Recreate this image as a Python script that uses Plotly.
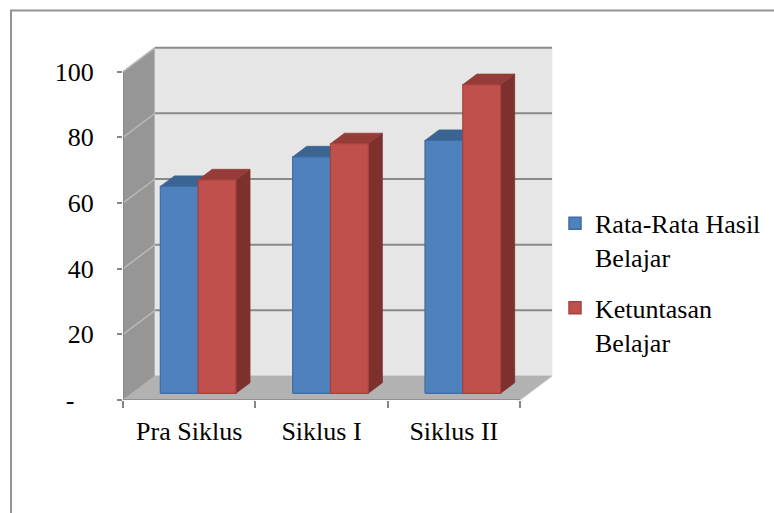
import plotly.graph_objects as go

# ---------------- data ----------------
categories = ["Pra Siklus", "Siklus I", "Siklus II"]
rata_rata = [63, 72, 77]
ketuntasan = [65, 76, 94]
series_names = ["Rata-Rata Hasil<br>Belajar", "Ketuntasan<br>Belajar"]
y_ticks = [0, 20, 40, 60, 80, 100]
y_tick_text = ["-\u00a0\u00a0\u00a0", "20", "40", "60", "80", "100"]

# ---------------- styling / geometry ----------------
W, H = 774, 513
ML, MR, MT, MB = 123, 219, 40, 113
KX = 132.33   # px per category unit
KY = 3.283    # px per value unit
DX = 32 / KX  # depth offset (x units)
DY = 24 / KY  # depth offset (y units)
XMIN = -0.5
XMAX = XMIN + (W - ML - MR) / KX
YMAX = (H - MT - MB) / KY
BW = 1 / 3.5          # bar width (gap width 150%)
D0, D1 = 0.28, 0.72   # bar depth span
FONT = "Times New Roman, Liberation Serif, serif"
FS = 26

front_cols = ["#4F81BD", "#C0504D"]
edge_cols = ["#3D6DA6", "#A8403D"]
top_cols = ["#3B6493", "#953B38"]
side_cols = ["#2F5078", "#7D302E"]


def P(x, y, d):
    return x + d * DX, y + d * DY


fig = go.Figure()


def poly(pts, fill, line_col=None, lw=0.8):
    xs, ys = zip(*[P(*p) for p in pts])
    xs = list(xs) + [xs[0]]
    ys = list(ys) + [ys[0]]
    fig.add_trace(go.Scatter(
        x=xs, y=ys, mode="lines", fill="toself", fillcolor=fill,
        line=dict(color=line_col or fill, width=lw),
        showlegend=False, hoverinfo="skip"))


def lines(segs, color, width, clip=True):
    xs, ys = [], []
    for a, b in segs:
        pa, pb = P(*a), P(*b)
        xs += [pa[0], pb[0], None]
        ys += [pa[1], pb[1], None]
    fig.add_trace(go.Scatter(x=xs, y=ys, mode="lines",
                             line=dict(color=color, width=width),
                             showlegend=False, hoverinfo="skip",
                             cliponaxis=clip))


x0w, x1w = -0.5, len(categories) - 0.5
top = y_ticks[-1]

# walls and floor
poly([(x0w, 0, 0), (x0w, top, 0), (x0w, top, 1), (x0w, 0, 1)], "#969696", "#969696")
poly([(x0w, 0, 1), (x1w, 0, 1), (x1w, top, 1), (x0w, top, 1)], "#E6E6E6", "#E6E6E6")
poly([(x0w, 0, 0), (x1w, 0, 0), (x1w, 0, 1), (x0w, 0, 1)], "#B2B2B2", "#B2B2B2")

# gridlines
lines([((x0w, v, 1), (x1w, v, 1)) for v in y_ticks[1:]], "#8A8A8A", 2)
lines([((x0w, v, 0), (x0w, v, 1)) for v in y_ticks[1:]], "#B8B8B8", 1.5)
lines([((x1w, 0, 0), (x1w, 0, 1))], "#C8C8C8", 1)

# bars (pseudo 3-D)
series = [rata_rata, ketuntasan]
for i in range(len(categories)):
    for s, vals in enumerate(series):
        v = vals[i]
        xa = i - BW + s * BW
        xb = xa + BW
        poly([(xb, 0, D0), (xb, v, D0), (xb, v, D1), (xb, 0, D1)], side_cols[s], side_cols[s])
        poly([(xa, v, D0), (xb, v, D0), (xb, v, D1), (xa, v, D1)], top_cols[s], top_cols[s])
        poly([(xa, 0, D0), (xb, 0, D0), (xb, v, D0), (xa, v, D0)], front_cols[s], edge_cols[s], 1.2)

# front axis lines
lines([((x0w, 0, 0), (x0w, top, 0)), ((x0w, 0, 0), (x1w, 0, 0))], "#868686", 1.5, clip=False)

# legend entries
for s in range(2):
    fig.add_trace(go.Bar(x=[None], y=[None], name=series_names[s],
                         legendgroup=f"g{s}",
                         marker=dict(color=front_cols[s], line=dict(color=edge_cols[s], width=1.5))))

PW, PH = W - ML - MR, H - MT - MB

fig.update_layout(
    template="none",
    width=W, height=H, autosize=False,
    margin=dict(l=ML, r=MR, t=MT, b=MB, pad=0, autoexpand=False),
    paper_bgcolor="white", plot_bgcolor="white",
    font=dict(family=FONT, size=FS, color="black"),
    hovermode=False,
    showlegend=True,
    legend=dict(x=1.0, y=0.556, xanchor="left", yanchor="top", valign="top",
                bgcolor="rgba(0,0,0,0)", borderwidth=0, tracegroupgap=14,
                font=dict(family=FONT, size=FS, color="black")),
    xaxis=dict(range=[XMIN, XMAX], tickmode="array", tickvals=list(range(len(categories))),
               ticktext=categories, ticks="", showgrid=False, zeroline=False,
               showline=False, automargin=False, fixedrange=True, ticklabelstandoff=13,
               minor=dict(tickmode="array", tickvals=[k - 0.5 for k in range(len(categories) + 1)],
                          ticks="outside", ticklen=7, tickwidth=1.5, tickcolor="#868686",
                          showgrid=False)),
    yaxis=dict(range=[0, YMAX], tickmode="array", tickvals=y_ticks, ticktext=y_tick_text,
               ticks="outside", ticklen=5, tickwidth=1.5, tickcolor="#868686",
               showgrid=False, zeroline=False, showline=False, automargin=False,
               fixedrange=True, ticklabelstandoff=18),
    shapes=[dict(type="path", xref="paper", yref="paper",
                 path=f"M {(11-ML)/PW} {(H-MB-H-2)/PH} "
                      f"L {(11-ML)/PW} {(H-MB-10.5)/PH} "
                      f"L {(W+2-ML)/PW} {(H-MB-10.5)/PH}",
                 line=dict(color="#939393", width=2))],
)

fig.write_html("out.html", config={"responsive": False},
               post_script="document.body.style.margin='0';document.body.style.overflow='hidden';")
